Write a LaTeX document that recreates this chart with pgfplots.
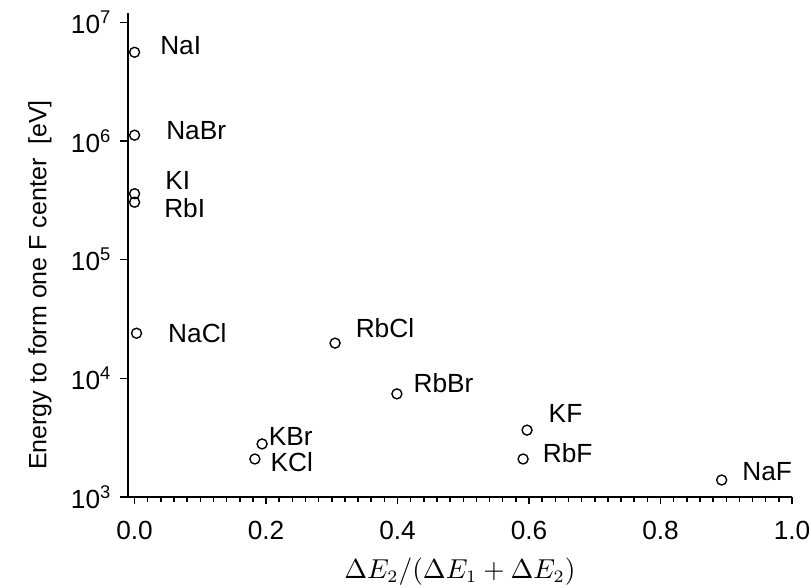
\documentclass[border=0pt]{standalone}
\usepackage{pgfplots}
\pgfplotsset{compat=1.18}
\usepackage{pgfplotstable}
\usepackage{fontspec}
\setmainfont{Liberation Sans}

\pgfplotstableread{
x y dx dy name
0.0 5.6e6 10.0 2.8 NaI
0.0 1.12e6 12.4 2.0 NaBr
0.0 3.6e5 12.0 5.2 KI
0.0 3.05e5 11.6 -2.4 RbI
0.003 2.4e4 12.4 0.0 NaCl
0.194 2.8e3 2.4 2.8 KBr
0.183 2.09e3 6.0 -1.2 KCl
0.305 1.98e4 8.0 6.0 RbCl
0.399 7.4e3 6.4 4.4 RbBr
0.597 3.66e3 8.4 6.8 KF
0.591 2.09e3 7.6 2.4 RbF
0.893 1.39e3 8.0 3.2 NaF
}\data

\begin{document}
\begin{tikzpicture}
\begin{axis}[
  scale only axis,
  width=265.6pt, height=193.6pt,
  ymode=log,
  xmin=-0.01, xmax=1.0,
  ymin=1e3, ymax=1.2e7,
  axis lines=left,
  axis line style={-, line width=0.7pt},
  tick align=outside,
  major tick length=3pt,
  minor tick length=2pt,
  major tick style={black, line width=0.6pt},
  minor tick style={black, line width=0.6pt},
  xtick={0,0.2,0.4,0.6,0.8,1.0},
  xticklabels={0.0,0.2,0.4,0.6,0.8,1.0},
  minor xtick={0.02,0.04,0.06,0.08,0.12,0.14,0.16,0.18,0.22,0.24,0.26,0.28,0.32,0.34,0.36,0.38,0.42,0.44,0.46,0.48,0.52,0.54,0.56,0.58,0.62,0.64,0.66,0.68,0.72,0.74,0.76,0.78,0.82,0.84,0.86,0.88,0.92,0.94,0.96,0.98,0.1,0.3,0.5,0.7,0.9},
  ytick={1e3,1e4,1e5,1e6,1e7},
  yticklabels={10\textsuperscript{3},10\textsuperscript{4},10\textsuperscript{5},10\textsuperscript{6},10\textsuperscript{7}},
  yminorticks=false,
  tick label style={font=\fontsize{10.5}{12}\selectfont},
  xticklabel style={yshift=-3pt},
  xlabel={$\Delta E_2/(\Delta E_1+\Delta E_2)$},
  xlabel style={at={(axis description cs:0.5,-0.155)}, anchor=center, font=\fontsize{10.5}{12}\selectfont},
  ylabel={Energy to form one F center\ \ [eV]},
  ylabel style={at={(axis description cs:-0.1325,0.438)}, anchor=center, rotate=0, font=\fontsize{10}{12}\selectfont},
  clip=false,
]
\addplot[only marks, mark=o, mark size=2pt, mark options={line width=0.55pt, black},
  point meta=explicit symbolic,
  visualization depends on={\thisrow{dx} \as \dx},
  visualization depends on={\thisrow{dy} \as \dy},
  nodes near coords,
  every node near coord/.append style={anchor=west, inner sep=0pt, font=\fontsize{10.5}{12}\selectfont, xshift=\dx pt, yshift=\dy pt},
] table[x=x, y=y, meta=name] {\data};
\coordinate (SW) at (rel axis cs:0,0);
\coordinate (NE) at (rel axis cs:1,1);
\end{axis}
\pgfresetboundingbox
\useasboundingbox ([shift={(-51.2pt,-36.4pt)}]SW) rectangle ([shift={(7.6pt,5.2pt)}]NE);
\end{tikzpicture}
\end{document}
